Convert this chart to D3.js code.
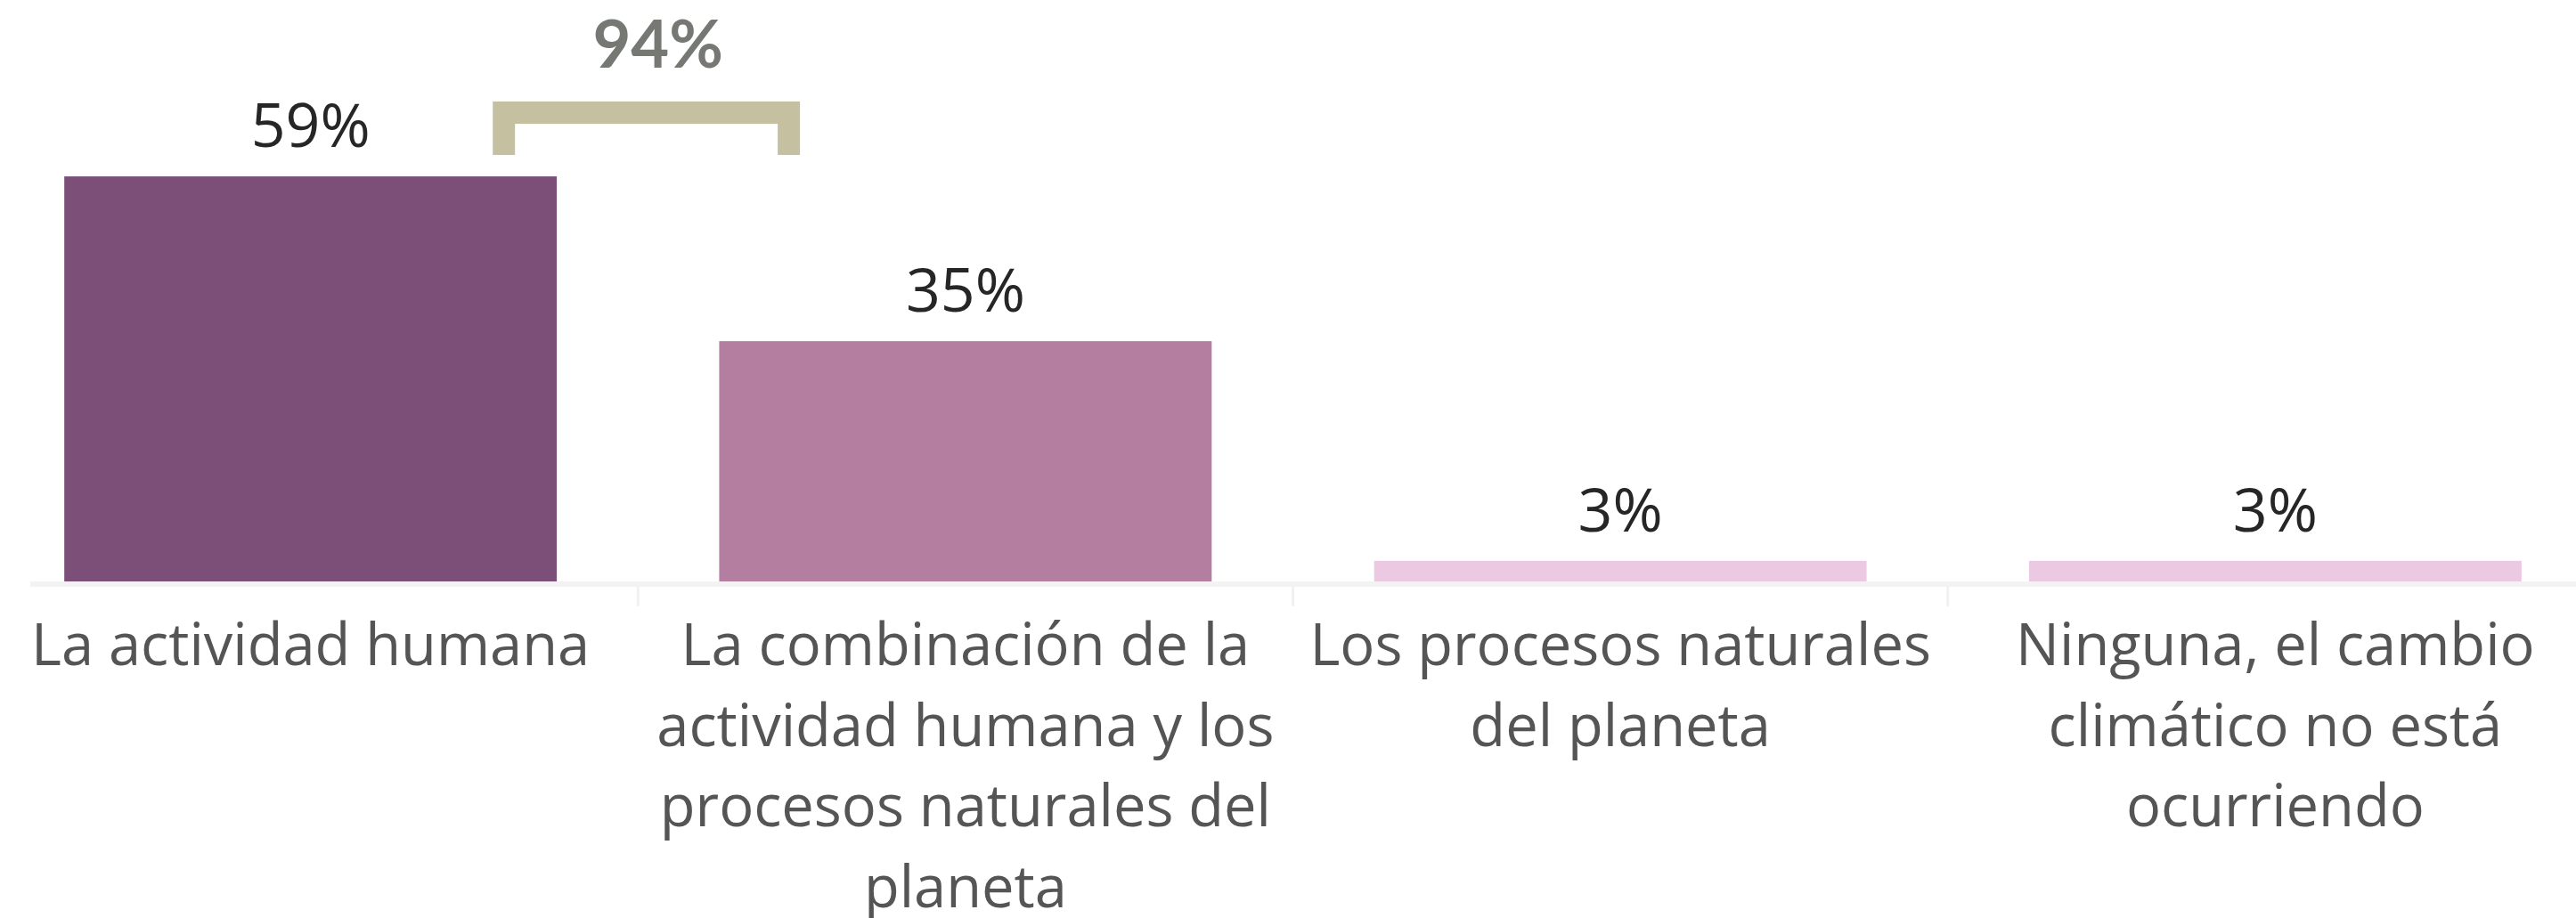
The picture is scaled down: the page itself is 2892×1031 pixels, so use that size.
<!DOCTYPE html>
<meta charset="utf-8">
<style>
    body { margin: 0; background: #fff; }
    svg { display: block; }
</style>
<svg width="2892" height="1031"></svg>

<script src="https://d3js.org/d3.v7.min.js"></script>
<script>
    // ¿Cuál es la causa del cambio climático?
    var categories = [
        "La actividad humana",
        "La combinación de la actividad humana y los procesos naturales del planeta",
        "Los procesos naturales del planeta",
        "Ninguna, el cambio climático no está ocurriendo"
    ];
    var labelLines = [
        ["La actividad humana"],
        ["La combinación de la", "actividad humana y los", "procesos naturales del", "planeta"],
        ["Los procesos naturales", "del planeta"],
        ["Ninguna, el cambio", "climático no está", "ocurriendo"]
    ];
    var values = [0.59, 0.35, 0.03, 0.03];
    var colors = ["#7b4f77", "#b47ea0", "#ecc9e3", "#ecc9e3"];
    // suma de las dos primeras respuestas
    var combined = ["La actividad humana", "La combinación de la actividad humana y los procesos naturales del planeta"];
    var combinedValue = 0.94;

    (function () {
        var svg = d3.select("svg"),
            width = +svg.attr("width"),
            baseline = 653,
            x = d3.scaleBand()
                .domain(categories)
                .range([-19, 2922])
                .paddingInner(0.248)
                .paddingOuter(0.124),
            y = d3.scaleLinear()
                .domain([0, 1])
                .range([baseline, baseline - 771]),
            pct = d3.format(".0%");

        // barras
        svg.append("g")
            .selectAll("rect")
            .data(values)
            .enter()
            .append("rect")
            .attr("x", function (d, i) { return x(categories[i]); })
            .attr("y", function (d) { return y(d); })
            .attr("width", x.bandwidth())
            .attr("height", function (d) { return y(0) - y(d); })
            .attr("fill", function (d, i) { return colors[i]; });

        // etiquetas de valor
        svg.append("g")
            .selectAll("text")
            .data(values)
            .enter()
            .append("text")
            .attr("x", function (d, i) { return x(categories[i]) + x.bandwidth() / 2; })
            .attr("y", function (d) { return y(d) - 33; })
            .attr("text-anchor", "middle")
            .style("font-family", "'Open Sans', sans-serif")
            .style("font-size", "68px")
            .style("fill", "#262626")
            .text(function (d) { return pct(d); });

        // eje
        svg.append("rect")
            .attr("x", 34)
            .attr("y", baseline)
            .attr("width", width - 34)
            .attr("height", 6)
            .attr("fill", "#f3f3f3");

        var step = x.step(),
            start = x.range()[0];
        svg.append("g")
            .selectAll("rect")
            .data(d3.range(1, categories.length))
            .enter()
            .append("rect")
            .attr("x", function (i) { return start + i * step - 1.5; })
            .attr("y", baseline + 6)
            .attr("width", 3)
            .attr("height", 22)
            .attr("fill", "#f1f1f1");

        var labels = svg.append("g")
            .selectAll("text")
            .data(categories)
            .enter()
            .append("text")
            .attr("text-anchor", "middle")
            .style("font-family", "'Open Sans', sans-serif")
            .style("font-size", "65px")
            .style("fill", "#555555");

        labels.selectAll("tspan")
            .data(function (d, i) { return labelLines[i]; })
            .enter()
            .append("tspan")
            .attr("x", function () {
                var cat = d3.select(this.parentNode).datum();
                return x(cat) + x.bandwidth() / 2;
            })
            .attr("y", function (d, j) { return 747 + j * 90.5; })
            .text(function (d) { return d; });

        // corchete del total combinado
        var left = x(combined[0]) + x.bandwidth() * 0.87,
            right = x(combined[1]) + x.bandwidth() * 0.164,
            top = 114;
        svg.append("path")
            .attr("d", "M" + left + "," + (top + 60) +
                "V" + top + "H" + right + "V" + (top + 60) +
                "H" + (right - 25) + "V" + (top + 25) +
                "H" + (left + 25) + "V" + (top + 60) + "Z")
            .attr("fill", "#c5c1a0");

        svg.append("text")
            .attr("x", (left + right) / 2 + 13)
            .attr("y", 76)
            .attr("text-anchor", "middle")
            .style("font-family", "Lato, sans-serif")
            .style("font-weight", "700")
            .style("font-size", "74px")
            .style("fill", "#767874")
            .text(pct(combinedValue));
    })();
</script>
